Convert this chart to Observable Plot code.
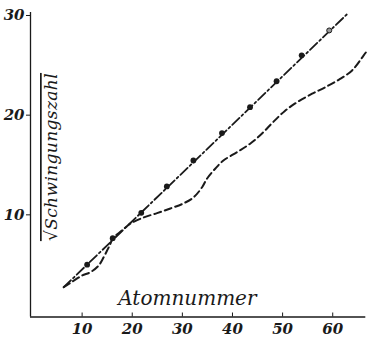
<!DOCTYPE html>
<html>
<head>
<meta charset="utf-8">
<script src="https://cdn.jsdelivr.net/npm/d3@7"></script>
<script src="https://cdn.jsdelivr.net/npm/@observablehq/plot@0.6"></script>
<style>
  html, body { margin: 0; padding: 0; background: #fff; }
  #chart { width: 367px; height: 337px; }
</style>
</head>
<body>
<div id="chart"></div>
<script>
// --- data ---
const xTicks = [10, 20, 30, 40, 50, 60];
const yTicks = [10, 20, 30];
const xDomain = [-0.3, 66.6];
const yDomain = [-0.25, 30.3];

// dotted points on the straight dash-dot line
const dotX = [11.0, 16.1, 21.8, 26.9, 32.2, 37.9, 43.5, 48.8, 53.8];
const dotY = [5.0, 7.66, 10.2, 12.85, 15.45, 18.2, 20.8, 23.4, 26.0];
const openX = [59.3];
const openY = [28.5];

// straight dash-dot line
const lineX = [6.33, 62.8];
const lineY = [2.74, 30.1];

// dashed curve
const curveX = [6.33, 8.2, 10.0, 11.65, 13.31, 14.3, 14.98, 15.64, 16.1, 17.4, 18.64, 19.63, 22.23, 24.96, 27.61, 30.2, 32.2, 33.94, 34.94, 36.6, 38.19, 40.92, 43.58, 45.9, 47.9, 50.4, 52.89, 55.89, 58.54, 61.19, 63.87, 66.18, 66.9];
const curveY = [2.74, 3.35, 3.91, 4.24, 4.92, 5.75, 6.42, 7.09, 7.66, 8.2, 8.73, 9.13, 9.73, 10.17, 10.64, 11.14, 11.74, 12.77, 13.65, 14.65, 15.45, 16.29, 17.16, 18.16, 19.2, 20.4, 21.3, 22.15, 22.81, 23.55, 24.49, 26.0, 26.5];

const xLabel = "Atomnummer";
const yLabel = "\u221ASchwingungszahl";
const xLabelPos = [31.0, 1.0];
const yLabelPos = [3.9, 15.8];

const ink = "#1a1a1a";
const zip = (xs, ys) => xs.map((x, i) => ({x, y: ys[i]}));

const chart = Plot.plot({
  width: 367,
  height: 337,
  marginLeft: 30,
  marginRight: 1.7,
  marginTop: 12,
  marginBottom: 20.5,
  x: {domain: xDomain},
  y: {domain: yDomain},
  style: {fontFamily: "DejaVu Serif", fontStyle: "italic", background: "#fff", color: ink},
  marks: [
    Plot.ruleX([xDomain[0]], {stroke: ink, strokeWidth: 1.3}),
    Plot.ruleY([yDomain[0]], {stroke: ink, strokeWidth: 1.3}),
    Plot.axisY({ticks: yTicks, tickSize: 4, tickPadding: 2, label: null, fontSize: 15, fontWeight: "bold", stroke: ink}),
    Plot.axisX({ticks: xTicks, tickSize: 4, dy: -4, tickFormat: () => "", label: null, stroke: ink}),
    Plot.axisX({ticks: xTicks, tickSize: 0, tickPadding: 6, label: null, fontSize: 15, fontWeight: "bold"}),
    Plot.line(zip(lineX, lineY), {x: "x", y: "y", stroke: ink, strokeWidth: 1.8, strokeDasharray: "10,3,2,3"}),
    Plot.line(zip(curveX, curveY), {x: "x", y: "y", stroke: ink, strokeWidth: 2, strokeDasharray: "7,4", curve: "catmull-rom"}),
    Plot.dot(zip(dotX, dotY), {x: "x", y: "y", r: 2.9, fill: ink, stroke: "none"}),
    Plot.dot(zip(openX, openY), {x: "x", y: "y", r: 2.5, fill: "#999", stroke: ink, strokeWidth: 1}),
    Plot.text([xLabel], {x: () => xLabelPos[0], y: () => xLabelPos[1], text: d => d, fontSize: 20, textAnchor: "middle", lineAnchor: "bottom", fill: ink}),
    Plot.text([yLabel], {x: () => yLabelPos[0], y: () => yLabelPos[1], text: d => d, fontSize: 17, rotate: -90, fill: ink})
  ]
});
chart.querySelectorAll("text").forEach(t => {
  if (t.textContent.includes("Schwingungszahl")) {
    t.style.textDecoration = "overline";
    t.style.letterSpacing = "0.4px";
  }
});
document.getElementById("chart").appendChild(chart);
</script>
</body>
</html>
